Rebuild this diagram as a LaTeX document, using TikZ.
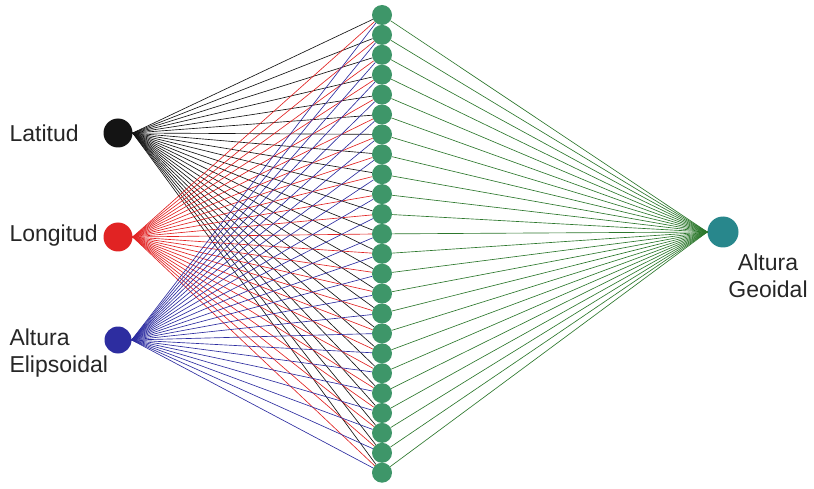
\documentclass[tikz,border=0pt]{standalone}
\usepackage{fontspec}
\setmainfont{Liberation Sans}
\usepackage{xcolor}

\definecolor{latcol}{RGB}{20,20,20}
\definecolor{loncol}{RGB}{225,35,35}
\definecolor{elicol}{RGB}{45,45,160}
\definecolor{hidcol}{RGB}{62,150,105}
\definecolor{outcol}{RGB}{40,135,140}
\definecolor{wirecol}{RGB}{45,120,45}

\begin{document}
\begin{tikzpicture}[x=1pt, y=-1pt,
  inp/.style={circle, minimum size=29pt, inner sep=0pt},
  hid/.style={circle, fill=hidcol, minimum size=20pt, inner sep=0pt},
  lbl/.style={font=\fontsize{23}{27}\selectfont, text=black!85},
  wire/.style={line width=0.65pt}]
\useasboundingbox (0,0) rectangle (814,489);

% Input neurons
\node[inp, fill=latcol] (lat) at (118,133) {};
\node[inp, fill=loncol] (lon) at (118,237) {};
\node[inp, fill=elicol, minimum size=27pt] (eli) at (118,340) {};

% Hidden layer
\foreach \i in {1,...,24}
  \node[hid] (h\i) at (382,{15+19.9*(\i-1)}) {};

% Output neuron
\node[inp, fill=outcol, minimum size=31pt] (out) at (723,232) {};

% Weights input -> hidden
\foreach \i in {1,...,24}
  \draw[wire, latcol] (lat.east) -- (h\i);
\foreach \i in {1,...,24}
  \draw[wire, loncol] (lon.east) -- (h\i);
\foreach \i in {1,...,24}
  \draw[wire, elicol] (eli.east) -- (h\i);

% Weights hidden -> output
\foreach \i in {1,...,24}
  \draw[wire, wirecol] (h\i) -- (out.west);

% Labels
\node[lbl, anchor=west] (tlat) at (6,133) {Latitud};
\node[lbl, anchor=west] (tlon) at (6,236) {Longitud};
\node[lbl, anchor=west, align=left] (teli) at (6,353) {Altura\\Elipsoidal};
\node[lbl, align=center] (tout) at (768,276) {Altura\\Geoidal};
\end{tikzpicture}
\end{document}
